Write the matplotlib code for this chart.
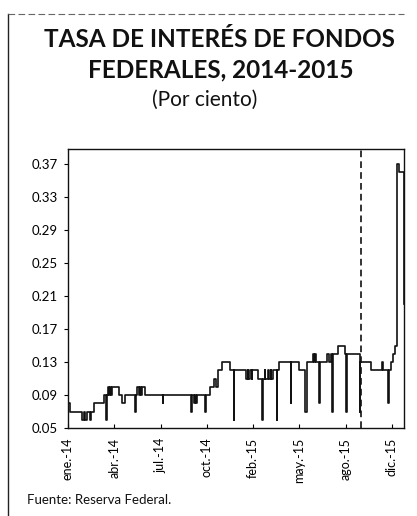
import matplotlib
matplotlib.use("Agg")
import matplotlib.pyplot as plt
from matplotlib.lines import Line2D
import numpy as np

plt.rcParams['font.family'] = ['Lato', 'DejaVu Sans']

# daily observations (business days, 2014-2015), given as change points
break_idx = [0, 3, 21, 24, 25, 28, 33, 34, 39, 54, 57, 58, 60, 61, 63, 64, 66,
             76, 81, 85, 100, 101, 103, 106, 107, 109, 110, 115, 141, 142,
             184, 185, 188, 190, 191, 193, 205, 206, 211, 217, 220, 223, 230,
             242, 247, 248, 266, 268, 269, 271, 274, 275, 284, 289, 290, 293,
             294, 298, 299, 302, 303, 306, 311, 312, 315, 332, 333, 344, 354,
             356, 365, 366, 368, 369, 374, 375, 386, 389, 392, 394, 395, 402,
             413, 414, 416, 435, 436, 452, 468, 469, 477, 478, 481, 484, 487,
             490, 493, 500, 501]
break_val = [0.08, 0.07, 0.06, 0.07, 0.06, 0.07, 0.06, 0.07, 0.08, 0.09, 0.06,
             0.09, 0.10, 0.09, 0.10, 0.09, 0.10,
             0.09, 0.08, 0.09, 0.07, 0.09, 0.10, 0.09, 0.10, 0.09, 0.10, 0.09,
             0.08, 0.09,
             0.07, 0.09, 0.08, 0.09, 0.08, 0.09, 0.07, 0.09, 0.10, 0.11, 0.10,
             0.12, 0.13,
             0.12, 0.06, 0.12, 0.11, 0.12, 0.11, 0.12, 0.11, 0.12, 0.11, 0.06,
             0.11, 0.12,
             0.11, 0.12, 0.11, 0.12, 0.11, 0.12, 0.06, 0.12, 0.13, 0.08, 0.13,
             0.12, 0.07,
             0.13, 0.14, 0.13, 0.14, 0.13, 0.08, 0.13, 0.14, 0.13, 0.14, 0.07,
             0.14, 0.15,
             0.14, 0.07, 0.14, 0.07, 0.13, 0.12, 0.13, 0.12, 0.08, 0.12, 0.13,
             0.14, 0.15,
             0.37, 0.36, 0.36, 0.20]
n_obs = 502
tick_idx = [0, 69, 138, 207, 276, 345, 414, 483]
tick_labels = ["ene.-14", "abr.-14", "jul.-14", "oct.-14",
               "feb.-15", "may.-15", "ago.-15", "dic.-15"]
yticks = [0.05, 0.09, 0.13, 0.17, 0.21, 0.25, 0.29, 0.33, 0.37]
marker_idx = 437

fig = plt.figure(figsize=(4.17, 5.16), dpi=100)
ax = fig.add_axes([0.163, 0.1705, 0.806, 0.540])

x = np.array(break_idx + [n_obs - 1])
y = np.array(break_val + [break_val[-1]])
ax.plot(x, y, drawstyle="steps-post", color="#111111", lw=1.2)
ax.axvline(marker_idx, color="#111111", lw=1.2, ls=(0, (4, 2.5)))

ax.set_xlim(0, n_obs - 1)
ax.set_ylim(0.05, 0.388)
ax.set_yticks(yticks)
ax.set_yticklabels(["%.2f" % v for v in yticks], fontsize=9.5)
ax.set_xticks(tick_idx)
ax.set_xticklabels(tick_labels, rotation=90, fontsize=9)
ax.tick_params(axis="y", direction="out", length=3, width=0.8, pad=4)
ax.tick_params(axis="x", direction="in", length=3, width=0.8, pad=7)
for s in ax.spines.values():
    s.set_linewidth(1.0)
    s.set_color("#111111")

fig.text(0.526, 0.923, "TASA DE INTERÉS DE FONDOS", ha="center", va="center",
         fontsize=17.5, fontweight="bold", color="#111111")
fig.text(0.53, 0.865, "FEDERALES, 2014-2015", ha="center", va="center",
         fontsize=17.5, fontweight="bold", color="#111111")
fig.text(0.49, 0.806, "(Por ciento)", ha="center", va="center",
         fontsize=15, color="#111111")
fig.text(0.065, 0.031, "Fuente: Reserva Federal.", ha="left", va="center",
         fontsize=9.5, color="#111111")

# border of the scanned box
fig.add_artist(Line2D([0.019, 0.019], [0.0, 0.973], color="#222222", lw=1.0))
fig.add_artist(Line2D([0.019, 0.97], [0.973, 0.973], color="#666666", lw=0.8,
                      ls=(0, (6, 3))))

fig.savefig("out.png", dpi=100)
